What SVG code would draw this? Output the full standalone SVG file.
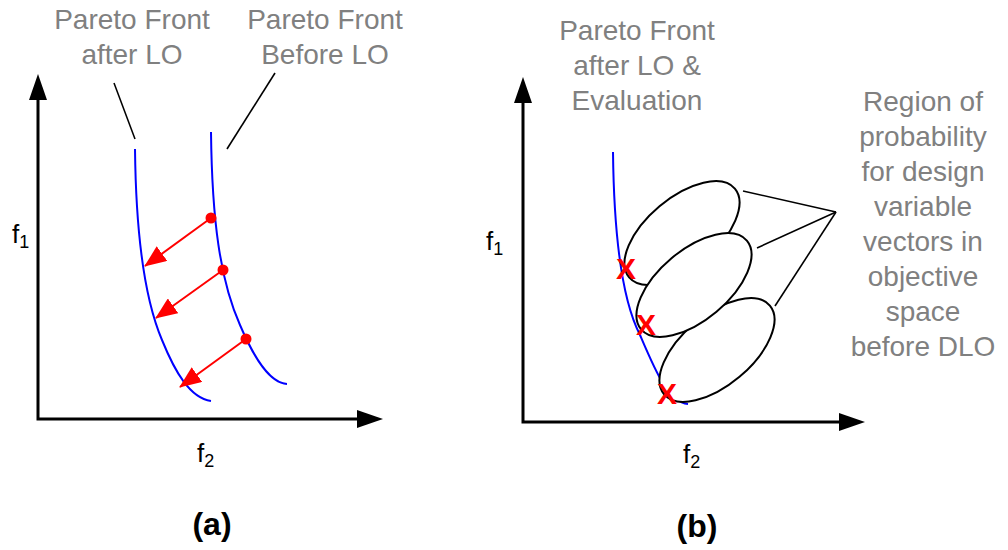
<svg xmlns="http://www.w3.org/2000/svg" width="1008" height="550" viewBox="0 0 1008 550">
<style>
.lbl{font-family:"Liberation Sans",Arial,sans-serif;font-size:28px;fill:#808080;text-anchor:middle}
.ax{font-family:"Liberation Sans",Arial,sans-serif;fill:#000}
.cap{font-family:"Liberation Sans",Arial,sans-serif;font-size:32px;font-weight:bold;fill:#000;text-anchor:middle}
.xm{font-family:"Liberation Sans",Arial,sans-serif;font-size:30px;font-weight:bold;fill:#ff0000;text-anchor:middle}
.axis{fill:none;stroke:#000;stroke-width:3;stroke-linejoin:miter;marker-start:url(#axhead);marker-end:url(#axhead)}
.front{fill:none;stroke:#0000ff;stroke-width:2}
.lead{fill:none;stroke:#000;stroke-width:1.6}
.move{fill:none;stroke:#ff0000;stroke-width:2;marker-end:url(#redhead)}
.dot{fill:#ff0000}
.ell{fill:#fff;stroke:#000;stroke-width:2}
</style>
<defs>
<marker id="axhead" markerUnits="userSpaceOnUse" viewBox="0 0 26 18" refX="0" refY="9" markerWidth="26" markerHeight="18" orient="auto-start-reverse">
<path d="M0,0 L26,9 L0,18 z" fill="#000"/>
</marker>
<marker id="redhead" markerUnits="userSpaceOnUse" viewBox="0 0 22 18" refX="21" refY="9" markerWidth="22" markerHeight="18" orient="auto">
<path d="M0,0 L22,9 L0,18 z" fill="#ff0000"/>
</marker>
</defs>

<!-- Panel (a) -->
<g id="axes-a">
<polyline class="axis" points="38,100 38,419 357,419"/>
<text class="ax" x="12" y="243" font-size="26">f<tspan font-size="18" dy="5">1</tspan></text>
<text class="ax" x="197" y="462" font-size="26">f<tspan font-size="18" dy="5">2</tspan></text>
</g>
<g id="front-after-a">
<path class="front" d="M135,149 C136,240 145,300 162,340 C175,372 190,398 211,401"/>
</g>
<g id="front-before-a">
<path class="front" d="M211,132 C212,220 220,280 240,325 C255,360 270,383 287,384"/>
</g>
<g id="label-after-a">
<text class="lbl" x="132" y="29">Pareto Front</text>
<text class="lbl" x="132" y="64">after LO</text>
</g>
<g id="label-before-a">
<text class="lbl" x="325" y="29">Pareto Front</text>
<text class="lbl" x="325" y="64">Before LO</text>
</g>
<g id="points-a">
<circle class="dot" cx="211" cy="218" r="5.5"/>
<circle class="dot" cx="223" cy="270" r="5.5"/>
<circle class="dot" cx="246" cy="339" r="5.5"/>
</g>
<g id="caption-a">
<text class="cap" x="212" y="535">(a)</text>
</g>

<!-- Panel (b) -->
<g id="axes-b">
<polyline class="axis" points="523,103 523,422 839,422"/>
<text class="ax" x="486" y="250" font-size="26">f<tspan font-size="18" dy="5">1</tspan></text>
<text class="ax" x="683" y="463" font-size="26">f<tspan font-size="18" dy="5">2</tspan></text>
</g>
<g id="front-b">
<path class="front" d="M613,152 C614,240 622,300 640,335 C655,370 668,402 688,404"/>
</g>
<g id="region-1">
<ellipse class="ell" cx="682" cy="233" rx="69" ry="35" transform="rotate(-40 682 233)"/>
</g>
<g id="region-3">
<ellipse class="ell" cx="717" cy="350" rx="69" ry="35" transform="rotate(-40 717 350)"/>
</g>
<g id="region-2">
<ellipse class="ell" cx="694" cy="285" rx="69" ry="35" transform="rotate(-40 694 285)"/>
</g>
<g id="marks-b">
<text class="xm" x="626" y="279">X</text>
<text class="xm" x="646" y="335">X</text>
<text class="xm" x="667" y="404">X</text>
</g>
<g id="label-after-b">
<text class="lbl" x="637" y="40">Pareto Front</text>
<text class="lbl" x="637" y="75">after LO &amp;</text>
<text class="lbl" x="637" y="110">Evaluation</text>
</g>
<g id="label-region-b">
<text class="lbl" x="923" y="111">Region of</text>
<text class="lbl" x="923" y="146">probability</text>
<text class="lbl" x="923" y="181">for design</text>
<text class="lbl" x="923" y="216">variable</text>
<text class="lbl" x="923" y="251">vectors in</text>
<text class="lbl" x="923" y="286">objective</text>
<text class="lbl" x="923" y="321">space</text>
<text class="lbl" x="923" y="356">before DLO</text>
</g>
<g id="caption-b">
<text class="cap" x="697" y="537">(b)</text>
</g>

<!-- Connectors -->
<g id="connectors">
<line class="lead" x1="114" y1="83" x2="135" y2="139"/>
<line class="lead" x1="275" y1="73" x2="227" y2="149"/>
<line class="move" x1="211" y1="218" x2="145" y2="266"/>
<line class="move" x1="223" y1="270" x2="156" y2="318"/>
<line class="move" x1="246" y1="339" x2="180" y2="387"/>
<line class="lead" x1="836" y1="212" x2="743" y2="191"/>
<line class="lead" x1="836" y1="212" x2="757" y2="248"/>
<line class="lead" x1="836" y1="212" x2="775" y2="306"/>
</g>
</svg>
